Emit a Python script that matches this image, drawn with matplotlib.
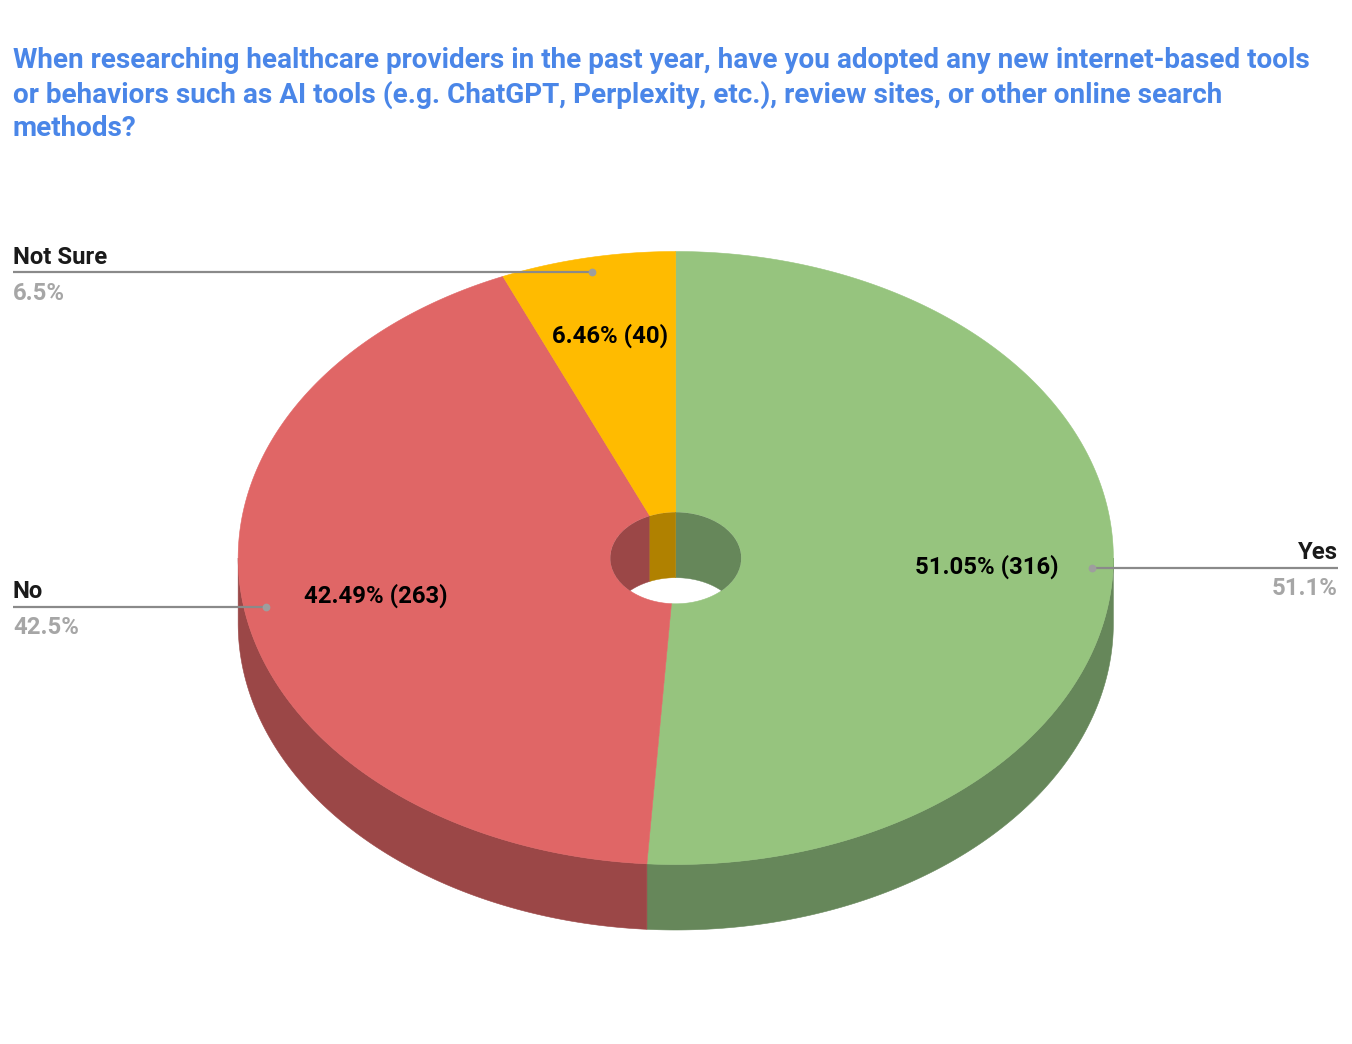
import numpy as np
import matplotlib
matplotlib.use("Agg")
import matplotlib.pyplot as plt
from matplotlib.patches import Ellipse, Polygon

TITLE = ("When researching healthcare providers in the past year, have you adopted any new internet-based tools\n"
         "or behaviors such as AI tools (e.g. ChatGPT, Perplexity, etc.), review sites, or other online search\n"
         "methods?")
categories = ["Yes", "No", "Not Sure"]
counts = [316, 263, 40]
inner_pct = ["51.05%", "42.49%", "6.46%"]
outer_pct = ["51.1%", "42.5%", "6.5%"]
top_colors = ["#96c47e", "#e06666", "#ffbb00"]
side_colors = ["#66875a", "#9b4747", "#b08100"]

W, H = 1352, 1044
CX, CY, RX, RY, DEPTH = 675.75, 558.0, 437.6, 306.5, 65.5
HRX, HRY = 65.5, 45.8

plt.rcParams["font.family"] = ["Roboto", "DejaVu Sans"]
fig = plt.figure(figsize=(W / 100, H / 100), dpi=100, facecolor="white")
ax = fig.add_axes([0, 0, 1, 1])
ax.set_xlim(0, W)
ax.set_ylim(H, 0)
ax.axis("off")


def rim(a0, a1, rx, ry, dy=0.0):
    """Ellipse arc; angle in degrees clockwise from the top."""
    t = np.radians(np.linspace(a0, a1, max(int(abs(a1 - a0) * 2), 2)))
    return np.column_stack([CX + rx * np.sin(t), CY + dy - ry * np.cos(t)])


total = sum(counts)
edges = np.concatenate([[0], np.cumsum(counts) / total * 360])
spans = list(zip(edges[:-1], edges[1:]))

# Outer front wall (visible between 90 and 270 degrees)
for (a0, a1), c in zip(spans, side_colors):
    lo, hi = max(a0, 90), min(a1, 270)
    if hi > lo:
        ax.add_patch(Polygon(np.vstack([rim(lo, hi, RX, RY), rim(hi, lo, RX, RY, DEPTH)]),
                             fc=c, ec=c, lw=0.4, zorder=1))

# Top face
for (a0, a1), c in zip(spans, top_colors):
    ax.add_patch(Polygon(np.vstack([rim(a0, a1, RX, RY), rim(a1, a0, HRX, HRY)]),
                         fc=c, ec=c, lw=0.4, zorder=2))

# Hole back wall (visible for the far half), clipped to the hole opening
hole = Ellipse((CX, CY), 2 * HRX, 2 * HRY, transform=ax.transData)
for (a0, a1), c in zip(spans, side_colors):
    for lo, hi in ((max(a0, 0), min(a1, 90)), (max(a0, 270), min(a1, 360))):
        if hi > lo:
            p = Polygon(np.vstack([rim(lo, hi, HRX, HRY), rim(hi, lo, HRX, HRY, DEPTH)]),
                        fc=c, ec=c, lw=0.3, zorder=3)
            ax.add_patch(p)
            p.set_clip_path(hole)

# Labels inside slices
inner_xy = [(986.5, 567), (375.5, 596), (609.5, 336)]
for n, p, (x, y) in zip(counts, inner_pct, inner_xy):
    ax.text(x, y, f"{p} ({n})", ha="center", va="center", fontsize=17.2,
            fontweight="bold", color="#000000", zorder=6)

# Leader lines and outer labels
LINE = "#8a8a8a"
DOT = "#9e9e9e"
leaders = [((1092, 567.5), 1338, "right"), ((265.5, 607), 13, "left"), ((592, 272), 13, "left")]
for (xy, xend, ha), name, pct in zip(leaders, categories, outer_pct):
    ax.plot([xy[0], xend], [xy[1], xy[1]], color=LINE, lw=1.6, zorder=5, solid_capstyle="butt")
    ax.plot(*xy, "o", ms=5.6, color=DOT, mec="none", zorder=6)
    ax.text(xend, xy[1] - 15, name, ha=ha, va="center", fontsize=17.2,
            fontweight="bold", color="#1a1a1a", zorder=6)
    ax.text(xend, xy[1] + 21, pct, ha=ha, va="center", fontsize=17.2,
            fontweight="bold", color="#a6a6a6", zorder=6)

for i, line in enumerate(TITLE.split("\n")):
    ax.text(13, 60.5 + 34 * i, line, ha="left", va="center", fontsize=20.1,
            fontweight="bold", color="#4a86e8")

fig.savefig("out.png", dpi=100, facecolor="white")
